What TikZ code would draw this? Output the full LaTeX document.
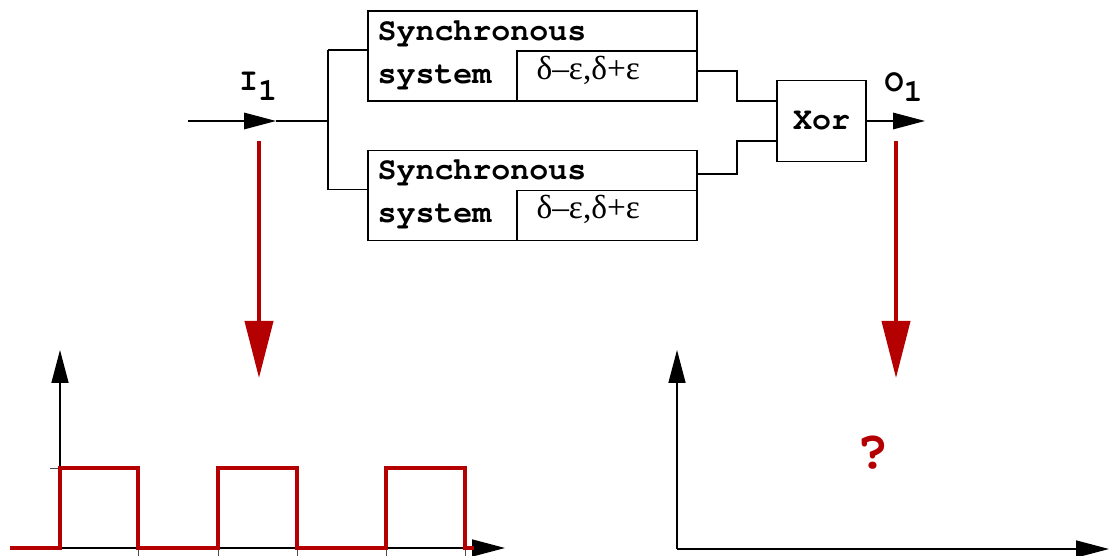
\documentclass[tikz,border=0pt]{standalone}
\usepackage{fontspec}
\setmainfont{Liberation Serif}
\newfontfamily\codefont{TeX Gyre Cursor}
\usetikzlibrary{arrows.meta,positioning,calc}
\definecolor{sigred}{RGB}{180,0,0}

\begin{document}
\begin{tikzpicture}[
		wire/.style={line width=0.9pt},
		code/.style={font=\codefont\bfseries\fontsize{18}{21}\selectfont, inner sep=0pt},
		greek/.style={font=\fontsize{19}{22}\selectfont, inner sep=0pt},
		sysbox/.style={draw, line width=0.9pt, minimum width=6.58cm, minimum height=1.8cm, inner sep=0pt},
		dlybox/.style={draw, line width=0.9pt, minimum width=3.6cm, minimum height=1.0cm, inner sep=0pt},
		xorbox/.style={draw, line width=0.9pt, minimum width=1.78cm, minimum height=1.62cm, inner sep=0pt},
		blackhead/.style={-{Triangle[length=0.64cm,width=0.33cm]}},
		sigarrow/.style={draw=sigred, line width=0.08cm, -{Triangle[length=1.14cm,width=0.56cm]}},
		axis/.style={line width=0.9pt, -{Triangle[length=0.66cm,width=0.34cm]}},
		tick/.style={line width=0.5pt, black!70},
		signal/.style={draw=sigred, line width=0.08cm, line join=miter},
		qmark/.style={font=\codefont\bfseries\fontsize{31}{34}\selectfont, text=sigred, inner sep=0pt}
		]
		
		\useasboundingbox (0,0) rectangle (22.18,11.12);
		
		% --------------------------------------------------
		% Two synchronous systems
		% --------------------------------------------------
		\node[sysbox] (sysA) at (10.65,10.0) {};
		\node[dlybox, anchor=south east] (dlyA) at (sysA.south east) {};
		\node[code, anchor=base west] (synA) at ($(sysA.north west)+(0.2,-0.6)$) {Synchronous};
		\node[code, anchor=base west] (sysTxtA) at ($(sysA.north west)+(0.2,-1.46)$) {system};
		\node[greek, anchor=base west] (epsA) at ($(dlyA.north west)+(0.4,-0.58)$) {δ–ε,δ+ε};
		
		\node[sysbox] (sysB) at (10.65,7.21) {};
		\node[dlybox, anchor=south east] (dlyB) at (sysB.south east) {};
		\node[code, anchor=base west] (synB) at ($(sysB.north west)+(0.2,-0.6)$) {Synchronous};
		\node[code, anchor=base west] (sysTxtB) at ($(sysB.north west)+(0.2,-1.46)$) {system};
		\node[greek, anchor=base west] (epsB) at ($(dlyB.north west)+(0.4,-0.58)$) {δ–ε,δ+ε};
		
		% Xor gate
		\node[xorbox, code] (xor) at (16.43,8.7) {Xor};
		
		% --------------------------------------------------
		% Input I1 and split
		% --------------------------------------------------
		\coordinate (in) at (3.76,8.7);
		\coordinate (iTip) at (5.52,8.7);
		\coordinate (split) at (6.56,8.7);
		
		\node[code] (lblI) at (5.16,9.4) {I\raisebox{-0.2cm}{1}};
		
		\draw[wire, blackhead] (in) -- (iTip);
		\draw[wire] (iTip) -- (split);
		\draw[wire] (split |- dlyA.north) -- (split |- dlyB.north);
		\draw[wire] (split |- dlyA.north) -- (sysA.west |- dlyA.north);
		\draw[wire] (split |- dlyB.north) -- (sysB.west |- dlyB.north);
		
		% --------------------------------------------------
		% Outputs into the Xor, output O1
		% --------------------------------------------------
		\coordinate (outA) at ($(sysA.east)+(0,-0.3)$);
		\coordinate (outB) at ($(sysB.east)+(0,0.43)$);
		\coordinate (inA) at ($(xor.west)+(0,0.4)$);
		\coordinate (inB) at ($(xor.west)+(0,-0.4)$);
		
		\draw[wire] (outA) -| ($(outA)!0.5!(inA)$) |- (inA);
		\draw[wire] (outB) -| ($(outB)!0.5!(inB)$) |- (inB);
		
		\coordinate (oTip) at (18.5,8.7);
		\draw[wire, blackhead] (xor.east) -- (oTip);
		\node[code] (lblO) at (18.07,9.37) {O\raisebox{-0.2cm}{1}};
		
		% --------------------------------------------------
		% Red arrows down to the plots
		% --------------------------------------------------
		\coordinate (redA) at (5.18,8.3);
		\coordinate (redAend) at (5.18,3.56);
		\coordinate (redB) at (17.92,8.3);
		\coordinate (redBend) at (17.92,3.56);
		\draw[sigarrow] (redA) -- (redAend);
		\draw[sigarrow] (redB) -- (redBend);
		
		% --------------------------------------------------
		% Left plot: input signal
		% --------------------------------------------------
		\coordinate (oL) at (1.2,0.16);
		\draw[axis] (oL) -- (1.2,4.12);
		\draw[axis] (oL) -- (10.1,0.16);
		\foreach \x in {2.76,4.36,5.94,7.72,9.3}
		\draw[tick] (\x,0.16) -- (\x,0);
		\draw[tick] (1.0,1.76) -- (1.2,1.76);
		
		\draw[signal] (0.2,0.16) -| (1.2,1.76) -| (2.76,0.16) -| (4.36,1.76)
		-| (5.94,0.16) -| (7.72,1.76) -| (9.3,0.16) -- (9.48,0.16);
		
		% --------------------------------------------------
		% Right plot: unknown output
		% --------------------------------------------------
		\coordinate (oR) at (13.54,0.14);
		\draw[axis] (oR) -- (13.54,4.12);
		\draw[axis] (oR) -- (22.18,0.14);
		\node[qmark] (qm) at (17.46,2.06) {?};
		
	\end{tikzpicture}
\end{document}
